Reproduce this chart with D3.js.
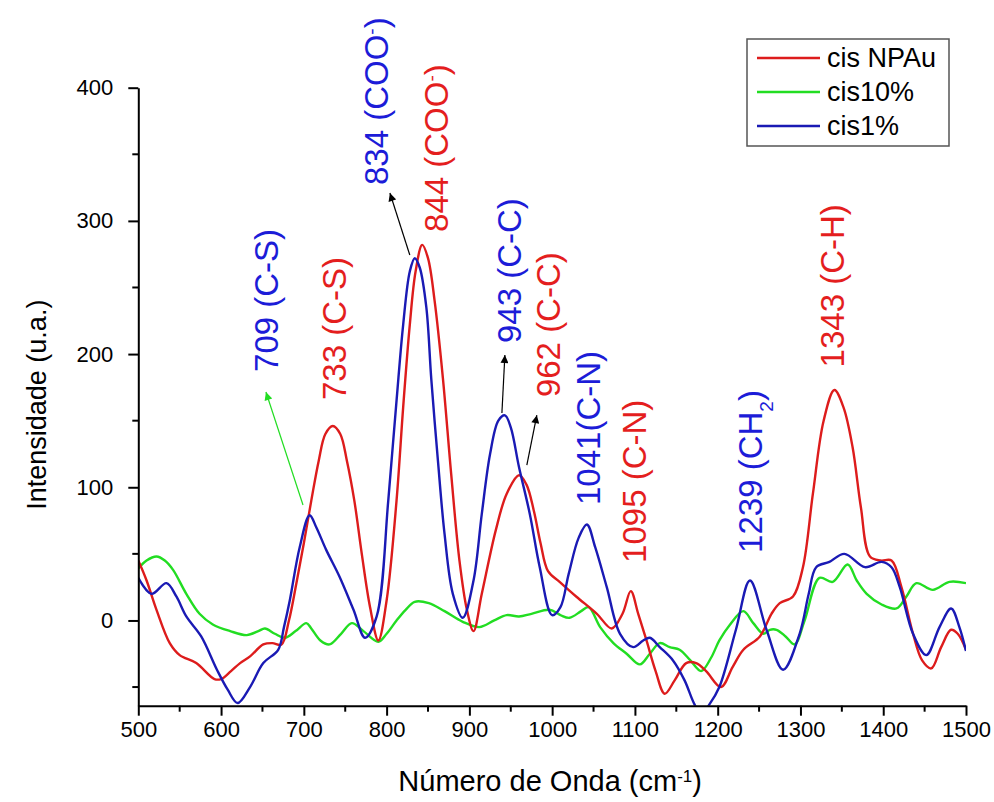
<!DOCTYPE html>
<html>
<head>
<meta charset="utf-8">
<script src="https://cdn.jsdelivr.net/npm/d3@7"></script>
<style>
  body { margin: 0; background: #fff; }
  svg { display: block; font-family: "Liberation Sans", Arial, sans-serif; }
  .axis path, .axis line { stroke: #000; stroke-width: 2px; }
  .axis text { font-size: 22px; fill: #000; }
</style>
</head>
<body>
<div id="chart"></div>
<script>
// wavenumbers (cm-1) and intensities
const redX = [500, 510, 522, 538, 550, 570, 592, 600, 612, 623, 635, 651, 662, 673, 682, 691, 700, 709, 718, 726, 735, 744, 752, 761, 770, 780, 790, 800, 812, 820, 828, 835, 843, 850, 858, 868, 878, 888, 897, 905, 915, 932, 945, 960, 969, 978, 986, 995, 1009, 1029, 1054, 1072, 1085, 1095, 1104, 1114, 1125, 1136, 1148, 1162, 1174, 1186, 1204, 1218, 1231, 1251, 1265, 1275, 1291, 1303, 1315, 1328, 1341, 1352, 1363, 1373, 1384, 1397, 1410, 1422, 1436, 1447, 1458, 1470, 1482, 1490, 1500];
const redY = [45, 30, 8, -17, -26, -32, -44, -44, -38, -32, -27, -18, -17, -18, 0, 28, 58, 90, 120, 140, 146, 140, 120, 90, 50, 10, -15, 15, 90, 160, 222, 262, 282, 272, 240, 182, 110, 45, 8, -8, 20, 68, 95, 109, 102, 82, 58, 37, 29, 18, 5, -6, 5, 22, 5, -15, -38, -55, -45, -32, -32, -38, -50, -35, -22, -12, 5, 13, 18, 40, 95, 150, 173, 160, 130, 85, 48, 45, 45, 25, -10, -30, -36, -20, -7, -10, -22];

const greenX = [500, 510, 522, 532, 542, 558, 574, 590, 611, 631, 645, 653, 665, 677, 690, 703, 709, 720, 731, 745, 758, 772, 790, 800, 812, 823, 834, 851, 870, 892, 912, 930, 945, 960, 975, 997, 1010, 1021, 1035, 1044, 1058, 1074, 1090, 1106, 1118, 1130, 1142, 1154, 1167, 1180, 1192, 1202, 1215, 1231, 1243, 1255, 1263, 1271, 1282, 1293, 1305, 1323, 1339, 1357, 1368, 1380, 1398, 1416, 1428, 1440, 1460, 1480, 1500];
const greenY = [39, 45, 48, 45, 38, 20, 5, -3, -8, -11, -8, -6, -10, -13, -8, -2, -6, -15, -18, -10, -2, -8, -16, -10, 0, 8, 14, 13, 7, -1, -5, 0, 4, 3, 5, 8, 4, 2, 7, 10, -5, -17, -25, -33, -25, -17, -20, -22, -30, -38, -28, -15, -3, 7, -2, -10, -7, -7, -12, -18, 0, 32, 29, 42, 30, 20, 12, 9, 18, 28, 23, 29, 28];

const blueX = [500, 516, 534, 546, 558, 576, 595, 608, 620, 635, 651, 669, 676, 683, 695, 707, 715, 727, 743, 760, 774, 788, 802, 812, 820, 828, 834, 840, 848, 854, 862, 870, 880, 892, 905, 915, 925, 935, 943, 950, 960, 973, 985, 1000, 1010, 1020, 1032, 1042, 1052, 1066, 1082, 1098, 1110, 1118, 1130, 1146, 1160, 1172, 1180, 1190, 1202, 1222, 1239, 1259, 1279, 1299, 1310, 1319, 1335, 1353, 1378, 1398, 1410, 1420, 1436, 1452, 1468, 1482, 1492, 1500];
const blueY = [32, 20, 28, 18, 3, -12, -37, -52, -62, -50, -32, -22, -5, 15, 55, 79, 70, 53, 33, 8, -13, 3, 90, 165, 222, 262, 272, 265, 235, 181, 120, 65, 20, 2, 30, 80, 125, 150, 154, 145, 115, 80, 40, 4, 10, 35, 62, 72, 55, 25, -10, -20, -15, -13, -20, -30, -45, -63, -70, -63, -50, -7, 30, -7, -37, -10, 20, 40, 44, 50, 40, 44, 40, 25, -10, -26, -5, 9, -5, -23];

const seriesNames = ['cis NPAu', 'cis10%', 'cis1%'];
const xTicks = [500, 600, 700, 800, 900, 1000, 1100, 1200, 1300, 1400, 1500];
const yTicks = [0, 100, 200, 300, 400];

// peak labels: text, wavenumber / intensity where the label starts
const labelText = ['709 (C-S)', '733 (C-S)', '834 (COO', '844 (COO', '943 (C-C)', '962 (C-C)', '1041(C-N)', '1095 (C-N)', '1239 (CH', '1343 (C-H)'];
const labelWn = [669, 751, 801.5, 874, 962, 1009, 1057.6, 1113, 1254, 1353];
const labelInt = [186.6, 165.5, 326.9, 291.7, 208.3, 167.7, 86.7, 43.2, 50.7, 190];
const labelSeries = [2, 0, 2, 0, 2, 0, 2, 0, 2, 0];
// arrows: from (wn, int) to (wn, int)
const arrowFrom = [[699, 86.7], [828, 274.4], [939.3, 155.8], [969.4, 116.7]];
const arrowTo = [[654.2, 171.5], [804, 320.9], [942.9, 199.3], [981.5, 154.1]];
const arrowColor = ['#22dd22', '#000', '#000', '#000'];

const lineColors = ['#dd1c1c', '#22dd22', '#1a1ab4'];
const textColors = ['#e41e1e', '#22dd22', '#1c1cd8'];

const width = 994, height = 802;
const svg = d3.select('#chart').append('svg').attr('width', width).attr('height', height);

const x = d3.scaleLinear().domain([500, 1500]).range([138.3, 966]);
const y = d3.scaleLinear().domain([-64, 400]).range([705.7, 87.7]);

const defs = svg.append('defs');
defs.append('clipPath').attr('id', 'clip')
  .append('rect').attr('x', x(500)).attr('y', 0).attr('width', x(1500) - x(500)).attr('height', y(-64));

const series = [
  redX.map((v, i) => [v, redY[i]]),
  greenX.map((v, i) => [v, greenY[i]]),
  blueX.map((v, i) => [v, blueY[i]])
];

const line = d3.line()
  .curve(d3.curveCatmullRom.alpha(0.5))
  .x((d) => x(d[0]))
  .y((d) => y(d[1]));

const g = svg.append('g').attr('clip-path', 'url(#clip)');
// green first, then red, blue on top
[1, 0, 2].forEach((i) => {
  g.append('path')
    .datum(series[i])
    .attr('fill', 'none')
    .attr('stroke', lineColors[i])
    .attr('stroke-width', 2.4)
    .attr('stroke-linejoin', 'round')
    .attr('d', line);
});

// axes
const xAxis = svg.append('g').attr('class', 'axis').attr('transform', `translate(0, ${y(-64)})`)
  .call(d3.axisBottom(x).tickValues(xTicks).tickFormat(d3.format('d')).tickSize(10).tickSizeOuter(0).tickPadding(6));
xAxis.selectAll('.minor').data(d3.range(550, 1500, 100)).enter().append('line')
  .attr('x1', (d) => x(d)).attr('x2', (d) => x(d)).attr('y1', 0).attr('y2', 6)
  .attr('stroke', '#000').attr('stroke-width', 2);

const yAxis = svg.append('g').attr('class', 'axis').attr('transform', `translate(${x(500)}, 0)`)
  .call(d3.axisLeft(y).tickValues(yTicks).tickSize(10).tickSizeOuter(0).tickPadding(15));
yAxis.selectAll('.minor').data([-50, 50, 150, 250, 350]).enter().append('line')
  .attr('x1', 0).attr('x2', -6).attr('y1', (d) => y(d)).attr('y2', (d) => y(d))
  .attr('stroke', '#000').attr('stroke-width', 2);

// axis titles
const xt = svg.append('text').attr('x', (x(500) + x(1500)) / 2 - 2).attr('y', 791)
  .attr('text-anchor', 'middle').style('font-size', '29px').text('Número de Onda (cm');
xt.append('tspan').attr('baseline-shift', 'super').style('font-size', '17px').text('-1');
xt.append('tspan').text(')');

svg.append('text').attr('transform', `translate(37, ${(y(-64) + y(400)) / 2 + 8}) rotate(-90)`)
  .attr('text-anchor', 'middle').attr('dy', '0.35em').style('font-size', '27px')
  .text('Intensidade (u.a.)');

// peak labels
labelText.forEach((t, i) => {
  const lbl = svg.append('text')
    .attr('transform', `translate(${x(labelWn[i])}, ${y(labelInt[i])}) rotate(-90)`)
    .style('font-size', '33px')
    .style('fill', textColors[labelSeries[i]])
    .text(t);
  if (t.endsWith('COO')) {
    lbl.append('tspan').attr('baseline-shift', 'super').style('font-size', '19px').text('-');
    lbl.append('tspan').text(')');
  }
  if (t.endsWith('CH')) {
    lbl.append('tspan').attr('baseline-shift', 'sub').style('font-size', '19px').text('2');
    lbl.append('tspan').text(')');
  }
});

// arrows
arrowColor.forEach((c, i) => {
  defs.append('marker').attr('id', `ah${i}`)
    .attr('viewBox', '0 0 10 10').attr('refX', 10).attr('refY', 5)
    .attr('markerWidth', 12).attr('markerHeight', 8).attr('markerUnits', 'userSpaceOnUse')
    .attr('orient', 'auto')
    .append('path').attr('d', 'M0,0 L10,5 L0,10 z').attr('fill', c);
  svg.append('line')
    .attr('x1', x(arrowFrom[i][0])).attr('y1', y(arrowFrom[i][1]))
    .attr('x2', x(arrowTo[i][0])).attr('y2', y(arrowTo[i][1]))
    .attr('stroke', c).attr('stroke-width', 1.2)
    .attr('marker-end', `url(#ah${i})`);
});

// legend
const legend = svg.append('g').attr('transform', 'translate(747, 39)');
legend.append('rect').attr('width', 202).attr('height', 107)
  .attr('fill', '#fff').attr('stroke', '#555').attr('stroke-width', 1.5);
seriesNames.forEach((n, i) => {
  const row = legend.append('g').attr('transform', `translate(0, ${19 + i * 34})`);
  row.append('line').attr('x1', 10).attr('x2', 73).attr('stroke', lineColors[i]).attr('stroke-width', 2.4);
  row.append('text').attr('x', 80).attr('dy', '0.35em').style('font-size', '27px').text(n);
});
</script>
</body>
</html>
